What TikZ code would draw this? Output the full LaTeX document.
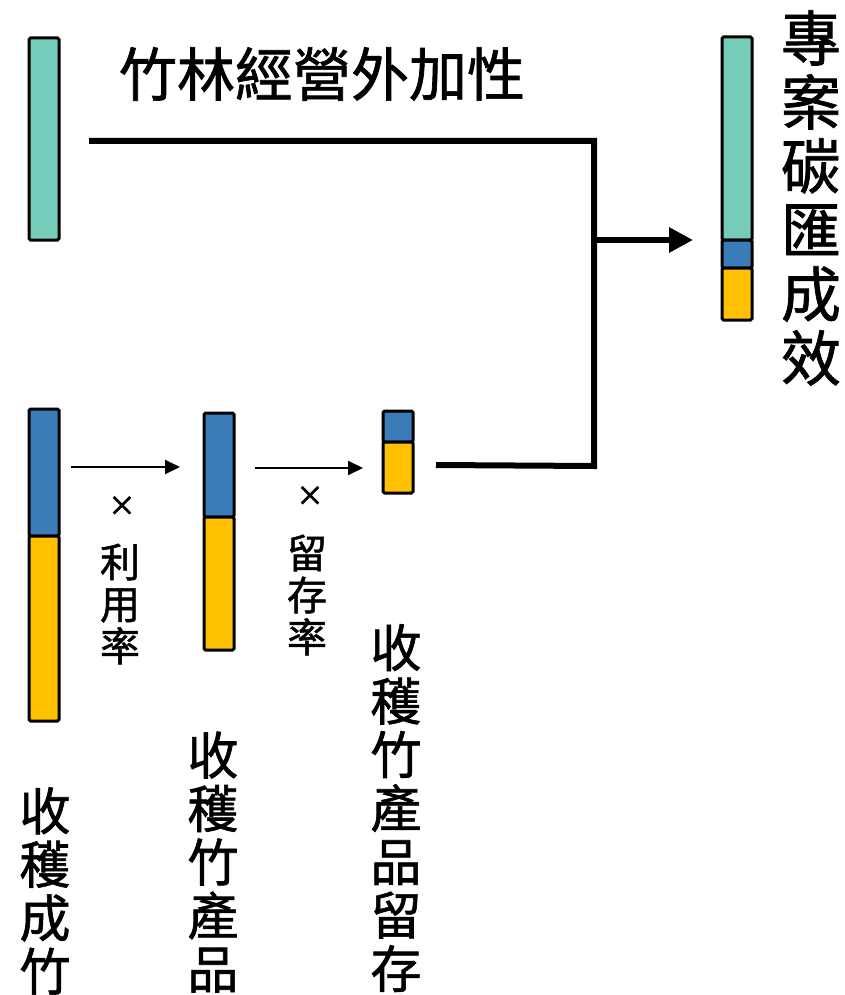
\documentclass[tikz,border=0pt]{standalone}
\usepackage{fontspec}
\setmainfont{Noto Sans CJK TC}[FakeBold=1.2]
\newfontfamily\timesfont{Noto Sans CJK TC}[FakeBold=3]
\usetikzlibrary{arrows.meta,calc}
\definecolor{tealc}{HTML}{76CCBA}
\definecolor{bluec}{HTML}{3A7CB7}
\definecolor{yellc}{HTML}{FFC000}
\begin{document}
\begin{tikzpicture}[x=1pt,y=-1pt,
  seg/.style={draw=black, line width=3pt, rounded corners=1.5pt, minimum width=30pt,
    inner sep=0pt, outer sep=0pt, anchor=north west},
  heavy/.style={line width=6pt, line join=miter},
  light/.style={line width=2pt, -{Triangle[length=15pt,width=14pt]}},
  lab/.style={inner sep=0pt, align=center, text=black}
]
\useasboundingbox (0,0) rectangle (844,995);

% top-left teal bar
\node[seg, fill=tealc, minimum height=202pt] (tA) at (29,38) {};

% bottom-left bar: harvested bamboo
\node[seg, fill=bluec, minimum height=127pt] (b1b) at (29,409) {};
\node[seg, fill=yellc, minimum height=185pt] (b1y) at (29,536) {};

% middle bar: harvested bamboo products
\node[seg, fill=bluec, minimum height=104pt] (b2b) at (204,413) {};
\node[seg, fill=yellc, minimum height=133pt] (b2y) at (204,517) {};

% small bar: retained products
\node[seg, fill=bluec, minimum height=31pt] (b3b) at (383,411) {};
\node[seg, fill=yellc, minimum height=51pt] (b3y) at (383,442) {};

% right bar: project carbon sink
\node[seg, fill=tealc, minimum height=203pt] (rt) at (722,37) {};
\node[seg, fill=bluec, minimum height=28pt] (rb) at (722,240) {};
\node[seg, fill=yellc, minimum height=52pt] (ry) at (722,268) {};

% labels
\node[lab, font=\fontsize{58}{60}\selectfont] (title) at (322,74) {竹林經營外加性};
\node[lab, font=\fontsize{60}{64}\selectfont] (rlab) at (811,198) {專\\案\\碳\\匯\\成\\效};
\node[lab, font=\fontsize{51}{53.5}\selectfont] (l1) at (45,891) {收\\穫\\成\\竹};
\node[lab, font=\fontsize{51}{53.5}\selectfont] (l2) at (213,862) {收\\穫\\竹\\產\\品};
\node[lab, font=\fontsize{51}{53.5}\selectfont] (l3) at (396,808) {收\\穫\\竹\\產\\品\\留\\存};
\node[lab, font=\timesfont\fontsize{27}{30}\selectfont] (x1) at (122,506) {×};
\node[lab, font=\fontsize{40}{42}\selectfont] (r1) at (120,604) {利\\用\\率};
\node[lab, font=\timesfont\fontsize{27}{30}\selectfont] (x2) at (310,496) {×};
\node[lab, font=\fontsize{40}{42}\selectfont] (r2) at (307,595) {留\\存\\率};

% connectors
\coordinate (a1s) at ($(b1b.east |- 0,467)+(12,0)$);
\coordinate (a1e) at ($(b2b.west |- 0,467)+(-24,0)$);
\draw[light] (a1s) -- (a1e);
\coordinate (a2s) at ($(b2b.east |- 0,468)+(21,0)$);
\coordinate (a2e) at ($(b3b.west |- 0,468)+(-20,0)$);
\draw[light] (a2s) -- (a2e);

\coordinate (topstart) at ($(tA.east |- 0,141)+(30,0)$);
\coordinate (junTop) at (594,141);
\coordinate (junBot) at (594,466);
\coordinate (botstart) at ($(b3y.east |- 0,465)+(23,0)$);
\coordinate (junMid) at (594,240);
\coordinate (arrEnd) at ($(rb.west |- 0,240)+(-29,0)$);
\draw[heavy] (topstart) -- (junTop) -- (junBot) -- (botstart);
\draw[heavy, -{Triangle[length=24pt,width=24pt]}] (junMid) -- (arrEnd);
\end{tikzpicture}
\end{document}
